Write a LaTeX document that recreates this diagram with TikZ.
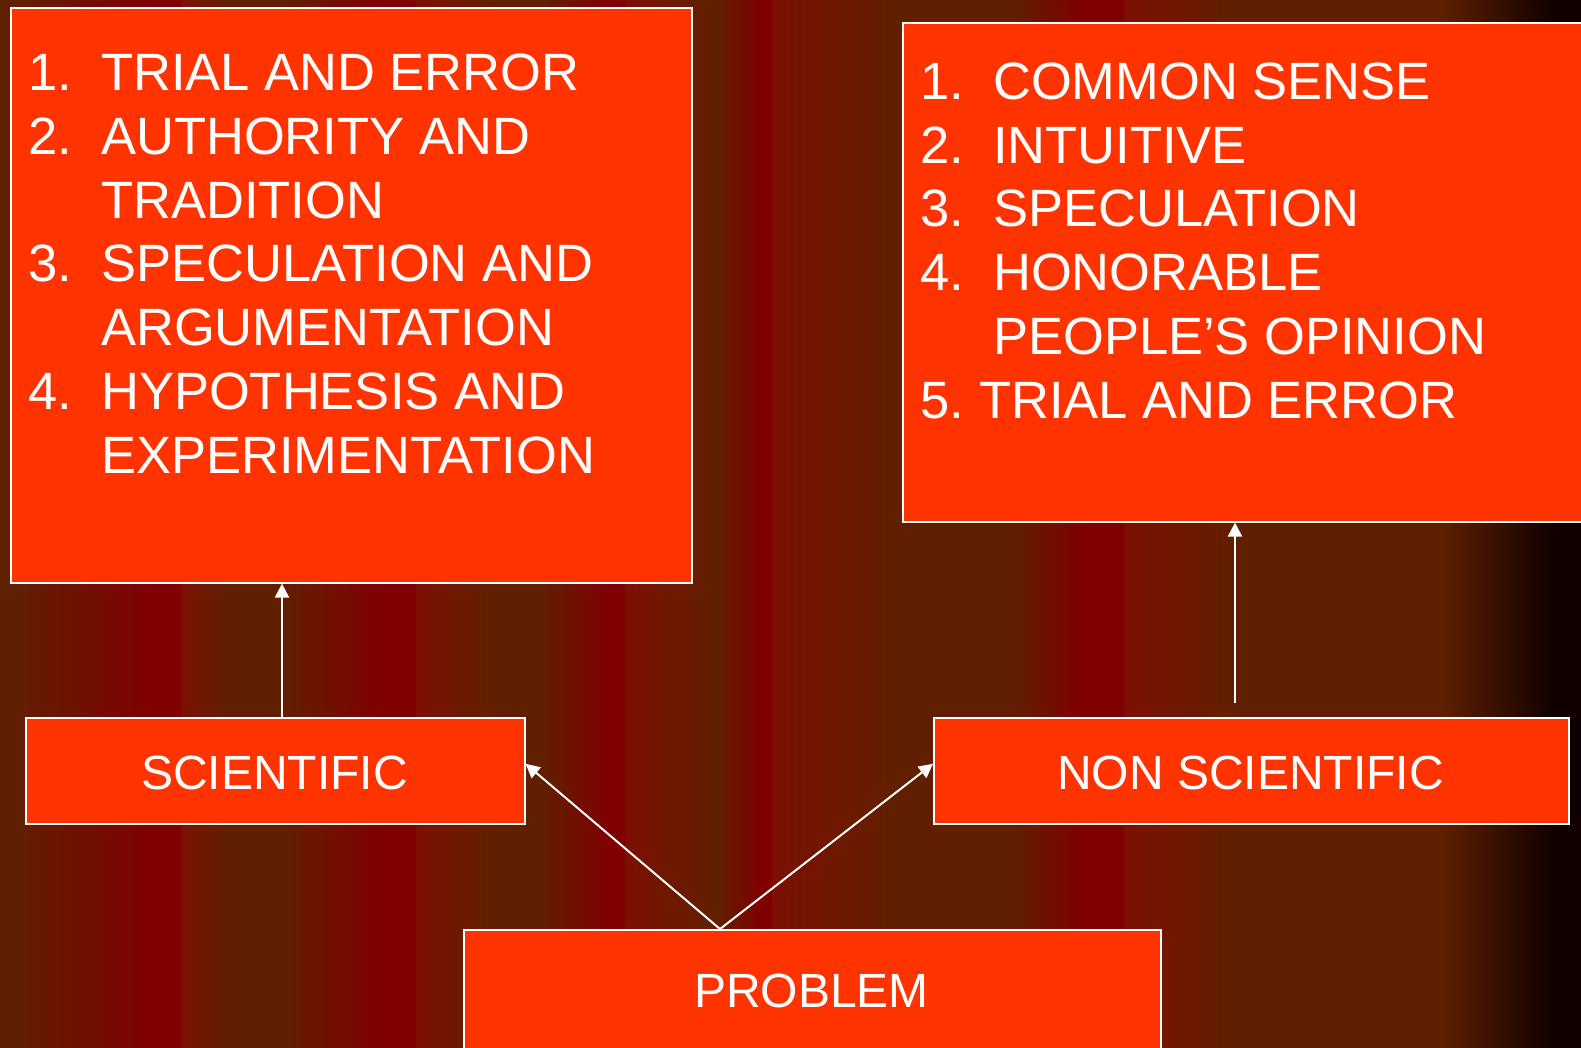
\documentclass[tikz,border=0pt]{standalone}
\usepackage{fontspec}
\setmainfont{Liberation Sans}
\usetikzlibrary{arrows.meta}
\definecolor{bgbrown}{RGB}{96,32,0}
\definecolor{bgred}{RGB}{128,0,0}
\definecolor{bgmid}{RGB}{124,16,0}
\definecolor{bgblack}{RGB}{16,0,0}
\definecolor{boxfill}{RGB}{255,51,0}

\begin{document}
\begin{tikzpicture}[x=1pt,y=-1pt,
  panel/.style={draw=white, line width=1.6pt, fill=boxfill, rectangle,
                inner sep=0pt, anchor=north west},
  listline/.style={anchor=base west, inner sep=0pt, text=white,
                   font=\fontsize{52.5}{64}\selectfont},
  tag/.style={anchor=base, inner sep=0pt, text=white,
              font=\fontsize{48}{58}\selectfont},
  link/.style={draw=white, line width=2pt},
  arr/.style={link, -{Triangle[width=14pt,length=14pt]}}]
\useasboundingbox (0,0) rectangle (1581,1048);
\begin{scope}
\clip (0,0) rectangle (1581,1048);

% striped backdrop
\foreach \a/\b/\ca/\cb in {
  -1/14/bgbrown/bgbrown, 14/151/bgbrown/bgred, 151/182/bgred/bgred,
  182/228/bgmid/bgbrown, 228/280/bgbrown/bgbrown, 280/383/bgbrown/bgred,
  383/417/bgred/bgred, 417/497/bgmid/bgbrown, 497/540/bgbrown/bgbrown,
  540/609/bgbrown/bgred, 609/626/bgred/bgred, 626/717/bgmid/bgbrown,
  717/760/bgbrown/bgred, 760/773/bgred/bgred, 773/900/bgmid/bgbrown,
  900/1010/bgbrown/bgbrown, 1010/1083/bgbrown/bgred, 1083/1125/bgred/bgred,
  1125/1240/bgmid/bgbrown, 1240/1440/bgbrown/bgbrown,
  1440/1555/bgbrown/bgblack, 1555/1582/bgblack/bgblack}
  \fill[left color=\ca, right color=\cb] (\a-0.5,-1) rectangle (\b+0.5,1049);

% boxes
\node[panel, minimum width=681pt, minimum height=575pt] (A) at (10,7) {};
\node[panel, minimum width=700pt, minimum height=499pt] (B) at (902,22) {};
\node[panel, minimum width=499pt, minimum height=106pt] (C) at (25,717) {};
\node[panel, minimum width=635pt, minimum height=106pt] (D) at (933,717) {};
\node[panel, minimum width=697pt, minimum height=123pt] (E) at (463,929) {};

% scientific methods
\node[listline] (a1n) at (28,90.5)  {1.};
\node[listline] (a1)  at (101,90.5) {TRIAL AND ERROR};
\node[listline] (a2n) at (28,154.3) {2.};
\node[listline] (a2)  at (101,154.3) {AUTHORITY AND};
\node[listline] (a2b) at (101,218.1) {TRADITION};
\node[listline] (a3n) at (28,281.9) {3.};
\node[listline] (a3)  at (101,281.9) {SPECULATION AND};
\node[listline] (a3b) at (101,345.7) {ARGUMENTATION};
\node[listline] (a4n) at (28,409.5) {4.};
\node[listline] (a4)  at (101,409.5) {HYPOTHESIS AND};
\node[listline] (a4b) at (101,473.3) {EXPERIMENTATION};

% non scientific methods
\node[listline] (b1n) at (920,99.3)  {1.};
\node[listline] (b1)  at (993,99.3)  {COMMON SENSE};
\node[listline] (b2n) at (920,163.1) {2.};
\node[listline] (b2)  at (993,163.1) {INTUITIVE};
\node[listline] (b3n) at (920,226.9) {3.};
\node[listline] (b3)  at (993,226.9) {SPECULATION};
\node[listline] (b4n) at (920,290.7) {4.};
\node[listline] (b4)  at (993,290.7) {HONORABLE};
\node[listline] (b4b) at (993,354.5) {PEOPLE’S OPINION};
\node[listline] (b5n) at (920,418.3) {5.};
\node[listline] (b5)  at (979,418.3) {TRIAL AND ERROR};

% box captions
\node[tag] (ct) at (274.5,789.5) {SCIENTIFIC};
\node[tag] (dt) at (1250.5,789.5) {NON SCIENTIFIC};
\node[tag] (et) at (811.5,1007.7) {PROBLEM};

% connectors
\coordinate (sa) at (282,0);
\coordinate (nb) at (1235,703);
\coordinate (apex) at (720,929);
\draw[arr] (C.north -| sa) -- (A.south -| sa);
\draw[arr] (nb) -- (B.south -| nb);
\draw[arr] (apex) -- ([yshift=7pt]C.east);
\draw[arr] (apex) -- ([yshift=7pt]D.west);
\end{scope}
\end{tikzpicture}
\end{document}
